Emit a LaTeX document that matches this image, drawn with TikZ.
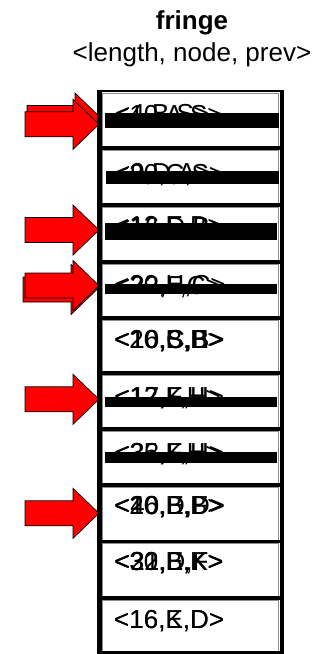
\documentclass[tikz,border=0pt]{standalone}
\usepackage{fontspec}
\setmainfont{Liberation Sans}
\tikzset{
  lbl/.style={anchor=base west, inner sep=0pt, font=\fontsize{26}{30}\selectfont},
  cellbox/.style={draw=black!45, line width=0.5pt, fill=white, minimum width=176pt, inner sep=0pt},
  thick line/.style={line width=3.6pt},
  bar/.style={fill=black},
  redarrow/.style={fill=red, draw=black, line width=0.7pt, line join=miter}
}
\newcommand\fringearrow[3]{% x offset, centre y, name
  \path[redarrow] (#1+25,#2-12.5) coordinate (#3) -- (#1+73,#2-12.5) -- (#1+73,#2-25) -- (#1+99,#2)
     -- (#1+73,#2+25) -- (#1+73,#2+12.5) -- (#1+25,#2+12.5) -- cycle;}
\begin{document}
\begin{tikzpicture}[x=1pt,y=-1pt]
\path[fill=white] (0,0) rectangle (322,654);
\useasboundingbox (0,0) rectangle (322,654);
% title
\node[anchor=base, inner sep=0pt, font=\fontsize{26}{30}\selectfont\bfseries] (title) at (192,29) {fringe};
\node[anchor=base, inner sep=0pt, font=\fontsize{26}{30}\selectfont] (sub) at (192,61) {<length, node, prev>};
% cells
\foreach \t/\b [count=\i] in {91/148,148/205,205/262,262/318,318/373,373/429,429/485,485/541.5,541.5/598,598/653}{
  \node[cellbox, minimum height={\b-\t-3}, anchor=north west] (cell\i) at (102,\t+1.5) {};
}
% row texts
\node[lbl] (t1a) at (114,123) {<10,A,S>};
\node[lbl] (t1b) at (115,122) {<4,B,S>};
\node[lbl] (t2a) at (114,182) {<20,C,S>};
\node[lbl] (t2b) at (115,181) {<9,D,A>};
\node[lbl] (t3a) at (114,234) {<12,E,B>};
\node[lbl] (t3b) at (115,235) {<16,D,B>};
\node[lbl] (t4a) at (114,293) {<20,H,C>};
\node[lbl] (t4b) at (115,294) {<22,F,C>};
\node[lbl] (t5a) at (114,348) {<20,B,B>};
\node[lbl] (t5b) at (115,348) {<10,S,E>};
\node[lbl] (t5c) at (114.5,348) {<16,C,B>};
\node[lbl] (t6a) at (114,405) {<12,K,H>};
\node[lbl] (t6b) at (115,405) {<17,F,H>};
\node[lbl] (t7a) at (114,461) {<25,K,H>};
\node[lbl] (t7b) at (115,461) {<33,F,H>};
\node[lbl] (t8a) at (114,514) {<20,B,B>};
\node[lbl] (t8b) at (115,514) {<40,E,D>};
\node[lbl] (t8c) at (114.5,514) {<16,D,F>};
\node[lbl] (t9a) at (114,570) {<30,B,K>};
\node[lbl] (t9b) at (115,570) {<21,D,F>};
\node[lbl] (t9c) at (114.5,570) {<32,E,K>};
\node[lbl] (t10a) at (114,628) {<16,K,D>};
\node[lbl] (t10b) at (114,628) {<16,E,D>};
% black bars
\fill[bar] (105,113) rectangle (279,128);
\fill[bar] (106,171) rectangle (279,184);
\fill[bar] (105,223) rectangle (277,240);
\fill[bar] (105,284) rectangle (277,294);
\fill[bar] (105,397) rectangle (277,407);
\fill[bar] (105,452) rectangle (277,463);
% arrows
\fringearrow{2}{118}{a1b}
\fringearrow{0}{124.3}{a1}
\fringearrow{0}{230}{a3}
\fringearrow{-2}{289.5}{a4b}
\fringearrow{0}{285.5}{a4}
\fringearrow{0}{399.3}{a6}
\fringearrow{0}{513.3}{a8}
% frame
\foreach \y in {148,205,262,318,373,429,485,541.5,598}{
  \draw[thick line] (99.5,\y) -- (282,\y);
}
\draw[line width=2pt] (99.5,91) -- (282.5,91);
\draw[line width=3pt] (99.5,652.5) -- (284,652.5);
\draw[line width=4.6pt] (99.5,89.5) -- (99.5,654);
\draw[line width=4.6pt] (282,89.5) -- (282,654);
\end{tikzpicture}
\end{document}
